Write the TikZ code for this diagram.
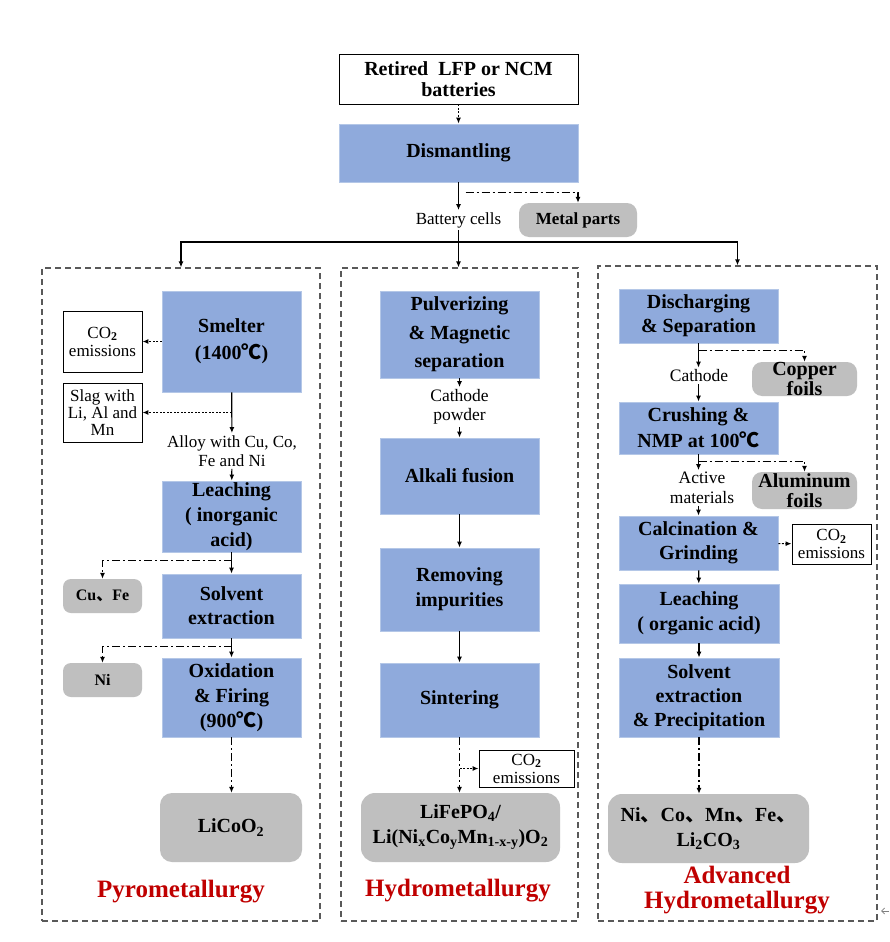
\documentclass[tikz,border=0pt]{standalone}
\usepackage{fontspec}
\setmainfont{Liberation Serif}
\newfontfamily\cjk{Noto Sans CJK SC}
\usetikzlibrary{arrows.meta,calc}
\definecolor{boxblue}{HTML}{8FAADC}
\definecolor{boxedge}{HTML}{B4C7E7}
\definecolor{boxgray}{HTML}{BFBFBF}
\definecolor{titlered}{HTML}{C00000}
\definecolor{dashgray}{HTML}{595959}
\newcommand{\degC}{{\cjk ℃}}
\newcommand{\dun}{{\cjk 、}}
\newcommand{\cotwo}{CO\textsubscript{\textbf{2}}}
\begin{document}
\begin{tikzpicture}[x=1pt,y=-1pt,
 bluebox/.style={fill=boxblue,draw=boxedge,line width=0.8pt,inner sep=0pt,align=center,font=\rmfamily\bfseries\fontsize{20}{25}\selectfont},
 whitebox/.style={fill=white,draw=black,line width=0.9pt,inner sep=0pt,align=center,font=\rmfamily\fontsize{17}{18}\selectfont},
 graybox/.style={fill=boxgray,draw=none,rounded corners=10pt,inner sep=0pt,align=center,font=\rmfamily\bfseries\fontsize{20}{20}\selectfont},
 regionbox/.style={draw=dashgray,line width=1.2pt,dash pattern=on 6pt off 4pt,inner sep=0pt},
 lbl/.style={inner sep=2pt,align=center,font=\rmfamily\fontsize{17}{19.5}\selectfont},
 title/.style={text=titlered,align=center,font=\rmfamily\bfseries\fontsize{25}{25}\selectfont},
 arr/.style={line width=1.2pt,-{Latex[length=6pt,width=5pt]}},
 dd/.style={arr,dash pattern=on 8pt off 3pt on 2pt off 3pt},
 dt/.style={arr,dash pattern=on 2pt off 1.5pt}]
\fill[white] (0,0) rectangle (890,942);
\useasboundingbox (0,0) rectangle (890,942);

% regions
\node[regionbox, minimum width=278pt, minimum height=653pt] (leftbox) at (181,594.5) {};
\node[regionbox, minimum width=237pt, minimum height=653pt] (midbox) at (459.5,594.5) {};
\node[regionbox, minimum width=279pt, minimum height=655pt] (rightbox) at (737.5,593.5) {};

% top part
\node[whitebox, font=\rmfamily\bfseries\fontsize{20}{21}\selectfont, minimum width=239pt, minimum height=50pt] (top) at (458.5,79) {Retired\ \ LFP or NCM\\batteries};
\node[bluebox, minimum width=239pt, minimum height=58pt] (dism) at (458.5,153) {Dismantling};
\node[graybox, font=\rmfamily\bfseries\fontsize{17}{19}\selectfont, minimum width=118pt, minimum height=34pt] (metal) at (578,220) {Metal parts};
\node[lbl] (cells) at (458.5,220) {Battery cells};
\coordinate (split) at (458.5,242);

\draw[dt] (top) -- (dism);
\draw[arr] (dism) -- (cells);
\draw[dd] ([xshift=7pt,yshift=-10pt]dism.south) -| (metal.north);
\draw[line width=1.2pt] (cells.south) -- (split);
\draw[arr] (split) -- (split |- midbox.north);
\draw[arr] (split) -| (leftbox.north);
\draw[arr] (split) -| (rightbox.north);

% left column: pyrometallurgy
\node[bluebox, font=\rmfamily\bfseries\fontsize{20}{27}\selectfont, minimum width=139pt, minimum height=101pt] (smelter) at (231.5,341.5) {Smelter\\(1400\degC)};
\node[whitebox, minimum width=79pt, minimum height=61pt] (co2L) at (102.5,341.5) {\cotwo\\emissions};
\node[whitebox, font=\rmfamily\fontsize{17}{17}\selectfont, minimum width=79pt, minimum height=59pt] (slag) at (102.5,412.5) {Slag with\\Li, Al and\\Mn};
\node[lbl] (alloy) at (232,451) {Alloy with Cu, Co,\\Fe and Ni};
\node[bluebox, minimum width=139pt, minimum height=71pt] (leachL) at (231.5,516.5) {Leaching\\( inorganic\\acid)};
\node[graybox, font=\rmfamily\bfseries\fontsize{16}{18}\selectfont, rounded corners=8pt, minimum width=79pt, minimum height=34pt] (cufe) at (102.5,596) {Cu\dun Fe};
\node[bluebox, font=\rmfamily\bfseries\fontsize{20}{24}\selectfont, minimum width=139pt, minimum height=64pt] (solvL) at (231.5,606) {Solvent\\extraction};
\node[graybox, font=\rmfamily\bfseries\fontsize{16}{18}\selectfont, rounded corners=8pt, minimum width=79pt, minimum height=34pt] (ni) at (102.5,680) {Ni};
\node[bluebox, minimum width=139pt, minimum height=79pt] (oxid) at (231.5,697.5) {Oxidation\\\& Firing\\(900\degC)};
\node[graybox, rounded corners=12pt, minimum width=142pt, minimum height=69pt] (licoo2) at (231,827.5) {LiCoO\textsubscript{2}};
\node[title] (pyro) at (181,892) {Pyrometallurgy};

\draw[dt] (smelter) -- (co2L);
\draw[arr] (smelter) -- (alloy);
\draw[dt] (smelter.south |- slag.east) -- (slag.east);
\draw[arr] (alloy) -- (leachL);
\draw[arr] (leachL) -- (solvL);
\draw[dd] ([yshift=-8pt]leachL.south) -| (cufe.north);
\draw[arr] (solvL) -- (oxid);
\draw[dd] ([yshift=-8pt]solvL.south) -| (ni.north);
\draw[dd] (oxid.south) -- (oxid.south |- licoo2.north);

% middle column: hydrometallurgy
\node[bluebox, font=\rmfamily\bfseries\fontsize{20}{28.5}\selectfont, minimum width=159pt, minimum height=87pt] (pulv) at (459.5,334.5) {Pulverizing\\\& Magnetic\\separation};
\node[lbl, font=\rmfamily\fontsize{17.5}{19.5}\selectfont] (cpow) at (459.5,407) {Cathode\\powder};
\node[bluebox, minimum width=159pt, minimum height=76pt] (alkali) at (459.5,476) {Alkali fusion};
\node[bluebox, minimum width=159pt, minimum height=83pt] (remov) at (459.5,589.5) {Removing\\impurities};
\node[bluebox, minimum width=159pt, minimum height=74pt] (sinter) at (459.5,700) {Sintering};
\node[whitebox, minimum width=95pt, minimum height=37pt] (co2M) at (526.5,768.5) {\cotwo\\emissions};
\node[graybox, font=\rmfamily\bfseries\fontsize{20}{25}\selectfont, rounded corners=14pt, minimum width=199pt, minimum height=69pt] (lifepo) at (460.5,827.5) {LiFePO\textsubscript{4}/\\Li(Ni\textsubscript{x}Co\textsubscript{y}Mn\textsubscript{1-x-y})O\textsubscript{2}};
\node[title] (hydro) at (458,891) {Hydrometallurgy};

\draw[arr] (pulv) -- (cpow);
\draw[arr] (cpow) -- (alkali);
\draw[arr] (alkali) -- (remov);
\draw[arr] (remov) -- (sinter);
\draw[dd] (sinter.south) -- (sinter.south |- lifepo.north);
\draw[dt] (sinter.south |- co2M.west) -- (co2M.west);

% right column: advanced hydrometallurgy
\node[bluebox, font=\rmfamily\bfseries\fontsize{20}{24}\selectfont, minimum width=159pt, minimum height=54pt] (disch) at (698.5,316) {Discharging\\\& Separation};
\node[graybox, minimum width=105pt, minimum height=34pt] (copper) at (804.5,379) {Copper\\foils};
\node[lbl, font=\rmfamily\fontsize{17.5}{19.5}\selectfont] (cath) at (699,376) {Cathode};
\node[bluebox, font=\rmfamily\bfseries\fontsize{20}{26}\selectfont, minimum width=159pt, minimum height=52pt] (crush) at (698.5,428) {Crushing \&\\NMP at 100\degC};
\node[graybox, minimum width=105pt, minimum height=37pt] (alum) at (804.5,490.5) {Aluminum\\foils};
\node[lbl, font=\rmfamily\fontsize{17.5}{19.5}\selectfont] (active) at (702,488) {Active\\materials};
\node[bluebox, font=\rmfamily\bfseries\fontsize{20}{24}\selectfont, minimum width=159pt, minimum height=54pt] (calc) at (698.5,543) {Calcination \&\\Grinding};
\node[whitebox, minimum width=79pt, minimum height=40pt] (co2R) at (831.5,544) {\cotwo\\emissions};
\node[bluebox, minimum width=160pt, minimum height=59pt] (leachR) at (699,613.5) {Leaching\\( organic acid)};
\node[bluebox, font=\rmfamily\bfseries\fontsize{20}{24}\selectfont, minimum width=160pt, minimum height=79pt] (solvR) at (699,697.5) {Solvent\\extraction\\\& Precipitation};
\node[graybox, font=\rmfamily\bfseries\fontsize{20}{25}\selectfont, rounded corners=14pt, minimum width=201pt, minimum height=69pt] (final) at (708.5,828.5) {Ni\dun Co\dun Mn\dun Fe\dun\\Li\textsubscript{2}CO\textsubscript{3}};
\node[title] (adv) at (737,890) {Advanced\\Hydrometallurgy};

\draw[arr] (disch.south) -- (disch.south |- cath.north);
\draw[dd] ([yshift=-7pt]disch.south) -| (copper.north);
\draw[arr] (disch.south |- cath.south) -- (crush.north);
\draw[arr] (crush.south) -- (crush.south |- active.north);
\draw[dd] ([yshift=-7pt]crush.south) -| (alum.north);
\draw[arr] (crush.south |- active.south) -- (calc.north);
\draw[dt] (calc) -- (co2R);
\draw[arr] (calc) -- (leachR);
\draw[arr] (leachR) -- (solvR);
\draw[dd] (solvR.south) -- (solvR.south |- final.north);

% small grey mark at the right edge
\coordinate (mA) at (889,911);
\coordinate (mB) at (881,911);
\draw[gray, line width=0.8pt, -{Straight Barb[length=3pt,width=6pt]}] (mA) -- (mB);
\end{tikzpicture}
\end{document}
